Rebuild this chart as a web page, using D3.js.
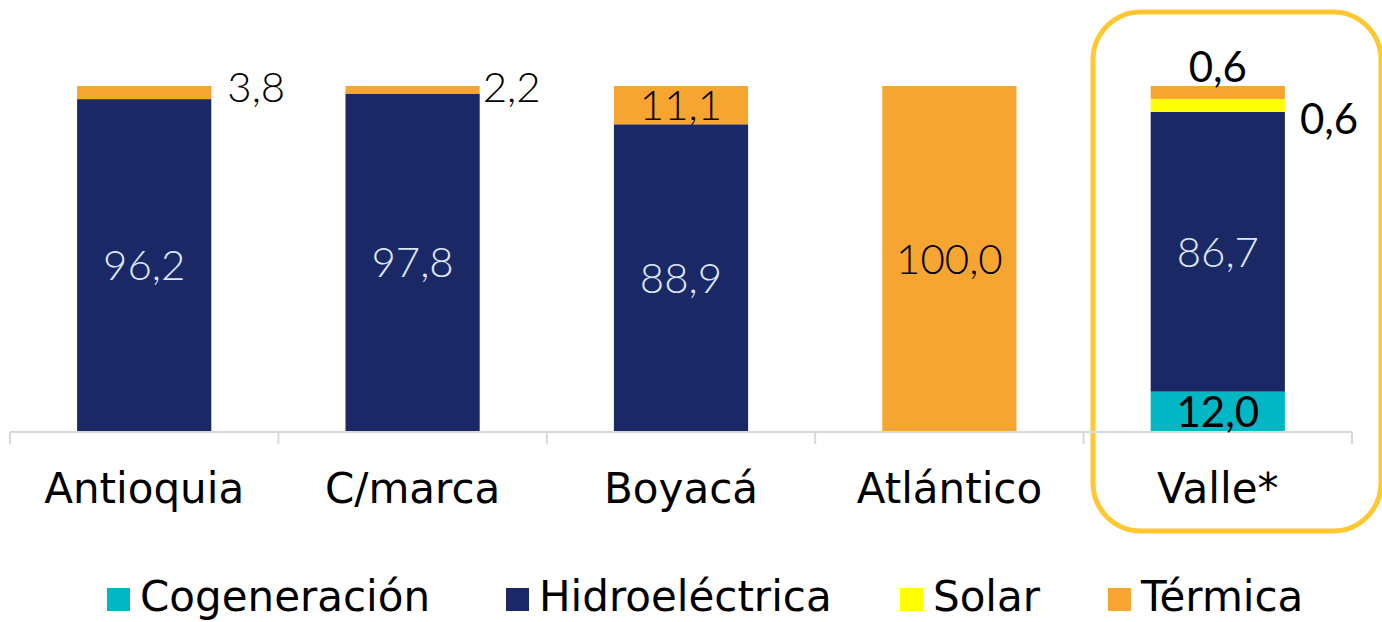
<!DOCTYPE html>
<html><head><meta charset="utf-8">
<script src="https://cdn.jsdelivr.net/npm/d3@7"></script>
<style>body{margin:0;background:#fff}svg{display:block}</style>
</head><body>
<svg id="c" width="1382" height="622"></svg>
<script>
const categories = ["Antioquia","C/marca","Boyacá","Atlántico","Valle*"];
const seriesNames = ["Cogeneración","Hidroeléctrica","Solar","Térmica"];
// segment sizes as drawn in the picture (%)
const cogeneracion = [0,0,0,0,11.4];
const hidroelectrica = [96.2,97.8,88.9,0,81.1];
const solar = [0,0,0,0,3.75];
const termica = [3.8,2.2,11.1,100.0,3.75];
// data labels as printed in the picture
const cogeneracionLabels = ["","","","","12,0"];
const hidroelectricaLabels = ["96,2","97,8","88,9","","86,7"];
const solarLabels = ["","","","","0,6"];
const termicaLabels = ["3,8","2,2","11,1","100,0","0,6"];
const colors = ["#00B7C3","#1B2866","#FFFF00","#F7A531"];

const labelSets = {"Cogeneración":cogeneracionLabels,"Hidroeléctrica":hidroelectricaLabels,"Solar":solarLabels,"Térmica":termicaLabels};

const svg = d3.select("#c");
const x = d3.scaleBand().domain(categories).range([10,1352]).paddingInner(0.5).paddingOuter(0.25);
const y = d3.scaleLinear().domain([0,100]).range([431,86]);

const rows = categories.map((c,i)=>({cat:c, "Cogeneración":cogeneracion[i], "Hidroeléctrica":hidroelectrica[i], "Solar":solar[i], "Térmica":termica[i]}));
const stack = d3.stack().keys(seriesNames)(rows);

// highlight box around Valle*
svg.append("rect").attr("x",1093).attr("y",12).attr("width",288).attr("height",519)
  .attr("rx",48).attr("fill","none").attr("stroke","#FFC832").attr("stroke-width",5);

stack.forEach((s,si)=>{
  svg.append("g").selectAll("rect").data(s).join("rect")
    .attr("x",d=>x(d.data.cat)).attr("width",x.bandwidth())
    .attr("y",d=>y(d[1])).attr("height",d=>y(d[0])-y(d[1]))
    .attr("fill",colors[si]);
});

// axis
const gx = svg.append("g").attr("transform","translate(0,432)");
gx.append("line").attr("x1",10).attr("x2",1352).attr("stroke","#d9d9d9").attr("stroke-width",2);
const tickPos = categories.map(c=>x(c)-(x.step()-x.bandwidth())/2).concat([x(categories[categories.length-1])+x.bandwidth()+(x.step()-x.bandwidth())/2]);
gx.selectAll("line.t").data(tickPos).join("line").attr("class","t")
  .attr("x1",d=>d).attr("x2",d=>d).attr("y1",0).attr("y2",12).attr("stroke","#d9d9d9").attr("stroke-width",2);
gx.selectAll("text").data(categories).join("text")
  .attr("x",d=>x(d)+x.bandwidth()/2).attr("y",71).attr("text-anchor","middle")
  .attr("font-family","DejaVu Sans").attr("font-size",42).attr("fill","#000").text(d=>d);

const lab = svg.append("g").attr("font-family","Lato").attr("font-size",42);
const outsideDx = {"Antioquia":16,"C/marca":3};
stack.forEach((s,si)=>{
  const key = seriesNames[si];
  const labels = labelSets[key];
  s.forEach((d,i)=>{
    const t = labels[i];
    if(!t) return;
    const x0 = x(d.data.cat), cx = x0+x.bandwidth()/2;
    const cy = (y(d[0])+y(d[1]))/2;
    if(key==="Hidroeléctrica"){
      lab.append("text").attr("x",cx).attr("y",cy).attr("dy","0.36em").attr("text-anchor","middle")
        .attr("fill","#DCE6F6").attr("font-weight",300).text(t);
    } else if(key==="Cogeneración"){
      lab.append("text").attr("x",cx).attr("y",cy).attr("dy","0.38em").attr("text-anchor","middle").attr("fill","#000").text(t);
    } else if(key==="Térmica"){
      if(d[1]-d[0]>=10) lab.append("text").attr("x",cx).attr("y",cy).attr("dy","0.36em").attr("text-anchor","middle").attr("fill","#000").attr("font-weight",300).text(t);
      else if(d.data.cat==="Valle*") lab.append("text").attr("x",cx).attr("y",y(d[1])-4).attr("text-anchor","middle").attr("fill","#000").text(t);
      else lab.append("text").attr("x",x0+x.bandwidth()+outsideDx[d.data.cat]).attr("y",y(d[1])+16).attr("text-anchor","start").attr("fill","#000").attr("font-weight",300).text(t);
    } else if(key==="Solar"){
      lab.append("text").attr("x",x0+x.bandwidth()+15).attr("y",cy+13).attr("dy","0.36em").attr("text-anchor","start").attr("fill","#000").text(t);
    }
  });
});

// legend
const legX = [107,506,900,1108];
const lg = svg.append("g");
seriesNames.forEach((n,i)=>{
  lg.append("rect").attr("x",legX[i]).attr("y",588).attr("width",23).attr("height",23).attr("fill",colors[i]);
  lg.append("text").attr("x",legX[i]+33).attr("y",611).attr("font-family","DejaVu Sans").attr("font-size",42).attr("fill","#000").text(n);
});
</script>
</body></html>
